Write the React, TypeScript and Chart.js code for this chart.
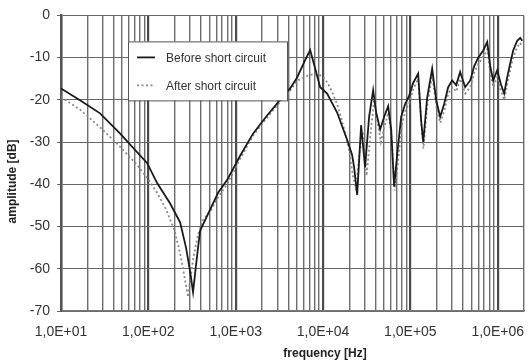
import React, { useEffect, useRef } from 'react';
import { Chart, registerables } from 'chart.js';

Chart.register(...registerables);

// Frequency response before the short circuit (Hz, dB)
const freqBefore = [
  10, 16.5, 28, 47, 97, 126, 177, 231, 270, 300, 325, 352, 391, 509, 629, 797,
  1120, 1580, 2230, 3220, 4200, 5050, 6240, 7120, 8120, 9270, 11150, 14500, 18900, 21500,
  22700, 24600, 27300, 30300, 33700, 37500, 40600, 45100, 50100, 55700, 60300, 65200,
  70600, 78500, 87100, 96900, 107600, 122800, 133000, 140300, 155700, 177700, 197400,
  219300, 243700, 270800, 301000, 334600, 371600, 424400, 484600, 538400, 598400,
  682400, 758500, 820900, 887800, 986000, 1095000, 1186000, 1285000, 1390000, 1503000,
  1671000, 1810000, 1907000,
];
const ampBefore = [
  -17.3, -20.1, -23.2, -27.9, -35, -39.7, -44.5, -49, -55, -60.5, -65.5, -59, -51, -46, -42, -39,
  -33.3, -28, -24, -20, -17.3, -14.7, -10.6, -8.2, -12.5, -17, -18.5, -23, -29.5, -33,
  -36, -42.5, -26, -36, -24, -17.7, -23, -27, -24, -21.5, -27, -40.5,
  -33, -24, -21, -19, -16, -13.8, -25, -30, -19.5, -12.6, -20,
  -24, -21, -17, -15.4, -16.5, -13.4, -17, -15.4, -12, -10,
  -8.3, -6.3, -12, -15.4, -13, -16.5, -18.5, -14.6, -11.4, -8.3,
  -6, -5.3, -6,
];

// Frequency response after the short circuit (Hz, dB)
const freqAfter = [
  10, 16.5, 28, 47, 75, 97, 126, 160, 200, 235, 265, 285, 305, 330, 370, 420, 509, 629, 797,
  1120, 1580, 2230, 3220, 4200, 5050, 6240, 7500, 9000, 10500, 12000, 14500, 17000, 19500,
  22000, 24000, 26000, 28500, 31500, 35000, 38500, 42000, 46000, 51000, 56000, 61000,
  66000, 72000, 80000, 88000, 98000, 108000, 123000, 134000, 141000, 157000, 178000,
  198000, 220000, 245000, 272000, 302000, 336000, 372000, 425000, 485000, 540000,
  600000, 683000, 760000, 820000, 890000, 990000, 1095000, 1190000, 1290000, 1390000,
  1500000, 1670000, 1810000, 1900000,
];
const ampAfter = [
  -19.3, -22.3, -26.5, -31, -35.5, -38.5, -42, -46, -51, -57, -63, -66.7, -62, -57, -52, -48.5, -46.5, -43, -40,
  -34, -28.5, -24.5, -20.5, -17.8, -15.5, -14.5, -14, -14, -15, -17, -21, -26, -31,
  -38, -41.5, -33, -27.5, -38, -28, -20, -25, -30, -26, -23, -29,
  -41.5, -35, -26, -22.5, -20.5, -17.5, -15, -26, -31.5, -21, -14,
  -21.5, -25.5, -22.5, -18.5, -17, -18, -15, -18.5, -17, -13.5,
  -11.5, -9.8, -8, -13.5, -17, -14.5, -18, -20, -16, -13,
  -10, -7.5, -6.5, -7.5,
];

const seriesNames = ['Before short circuit', 'After short circuit'];
const decadeLabels = ['1,0E+01', '1,0E+02', '1,0E+03', '1,0E+04', '1,0E+05', '1,0E+06'];
const freqMin = 10;
const freqMax = 2e6;
const ampMin = -70;
const ampMax = 0;
const ampStep = 10;
const xTitle = 'frequency [Hz]';
const yTitle = 'amplitude [dB]';

const FONT = '"Liberation Sans", Arial, sans-serif';

const toPoints = (xs: number[], ys: number[]) => xs.map((x, i) => ({ x, y: ys[i] }));

const isDecade = (v: number) => {
  const e = Math.log10(v);
  return Math.abs(e - Math.round(e)) < 1e-9;
};

// Legend box drawn inside the plot, plus the two axis titles
const overlayPlugin = {
  id: 'overlay',
  afterDraw(chart: any) {
    const { ctx, chartArea } = chart;
    ctx.save();

    // legend
    const bx = chartArea.left + 67;
    const by = chartArea.top + 26;
    const bw = 159;
    const bh = 59;
    ctx.fillStyle = '#ffffff';
    ctx.fillRect(bx, by, bw, bh);
    ctx.strokeStyle = '#555';
    ctx.lineWidth = 1;
    ctx.strokeRect(bx + 0.5, by + 0.5, bw, bh);

    chart.data.datasets.forEach((ds: any, i: number) => {
      const ry = by + 16 + i * 28;
      ctx.beginPath();
      ctx.strokeStyle = ds.borderColor;
      ctx.lineWidth = ds.borderWidth;
      ctx.setLineDash(ds.borderDash || []);
      ctx.moveTo(bx + 9, ry);
      ctx.lineTo(bx + 27, ry);
      ctx.stroke();
      ctx.setLineDash([]);
      ctx.fillStyle = '#333';
      ctx.font = `12px ${FONT}`;
      ctx.textBaseline = 'middle';
      ctx.textAlign = 'left';
      ctx.fillText(ds.label, bx + 38, ry + 1);
    });

    // axis titles
    ctx.fillStyle = '#222';
    ctx.font = `bold 12px ${FONT}`;
    ctx.textAlign = 'center';
    ctx.textBaseline = 'middle';
    ctx.fillText(xTitle, chartArea.left + 264, chartArea.bottom + 43);

    ctx.translate(13, chartArea.top + 166);
    ctx.rotate(-Math.PI / 2);
    ctx.fillText(yTitle, 0, 0);
    ctx.restore();
  },
};

export default function App() {
  const canvasRef = useRef<HTMLCanvasElement | null>(null);

  useEffect(() => {
    const canvas = canvasRef.current;
    if (!canvas) return;

    const chart = new Chart(canvas, {
      type: 'line',
      data: {
        datasets: [
          {
            label: seriesNames[0],
            data: toPoints(freqBefore, ampBefore),
            borderColor: '#1a1a1a',
            borderWidth: 1.8,
            pointRadius: 0,
            tension: 0,
            fill: false,
          },
          {
            label: seriesNames[1],
            data: toPoints(freqAfter, ampAfter),
            borderColor: '#8a8a8a',
            borderWidth: 1.8,
            borderDash: [2, 2.5],
            pointRadius: 0,
            tension: 0,
            fill: false,
          },
        ],
      },
      options: {
        animation: false,
        responsive: false,
        devicePixelRatio: 1,
        layout: { padding: { top: 15, right: 5, left: 0, bottom: 0 } },
        plugins: {
          legend: { display: false },
          tooltip: { enabled: false },
          title: { display: false },
        },
        scales: {
          x: {
            type: 'logarithmic',
            min: freqMin,
            max: freqMax,
            afterBuildTicks: (scale: any) => {
              const ticks: { value: number }[] = [];
              for (let d = 1; d <= 6; d++) {
                for (let m = 1; m <= 9; m++) {
                  const v = m * Math.pow(10, d);
                  if (v >= freqMin && v <= freqMax) ticks.push({ value: v });
                }
              }
              scale.ticks = ticks;
            },
            afterFit: (scale: any) => {
              scale.height = 53;
              scale.paddingLeft = 0;
              scale.paddingRight = 0;
            },
            ticks: {
              autoSkip: false,
              maxRotation: 0,
              minRotation: 0,
              padding: 13,
              color: '#333',
              font: { family: FONT, size: 14 },
              callback: (value: any) => {
                const v = Number(value);
                if (!isDecade(v)) return '';
                const e = Math.round(Math.log10(v));
                return decadeLabels[e - 1] ?? '';
              },
            },
            grid: {
              drawTicks: false,
              color: (ctx: any) => (ctx.tick && isDecade(ctx.tick.value) ? '#4a4a4a' : '#6c6c6c'),
              lineWidth: (ctx: any) => (ctx.tick && isDecade(ctx.tick.value) ? 2.2 : 1.4),
            },
            border: { display: true, color: '#777', width: 1.5 },
          },
          y: {
            type: 'linear',
            min: ampMin,
            max: ampMax,
            afterFit: (scale: any) => {
              scale.width = 61;
            },
            ticks: {
              stepSize: ampStep,
              padding: 7,
              color: '#333',
              font: { family: FONT, size: 14 },
            },
            grid: {
              drawTicks: true,
              tickLength: 4,
              color: '#666',
              lineWidth: 1,
            },
            border: { display: true, color: '#555', width: 2.5 },
          },
        },
      },
      plugins: [overlayPlugin],
    });

    return () => chart.destroy();
  }, []);

  return (
    <div style={{ position: 'fixed', left: 0, top: 0, width: 529, height: 364, background: '#fff' }}>
      <canvas ref={canvasRef} width={529} height={364} style={{ display: 'block' }} />
    </div>
  );
}
